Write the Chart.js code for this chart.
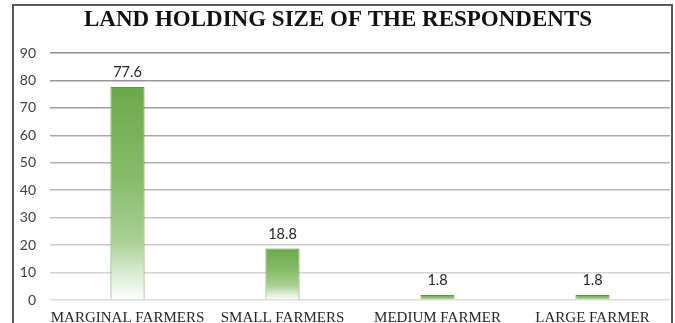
<!DOCTYPE html>
<html>
<head>
<meta charset="utf-8">
<script src="https://cdn.jsdelivr.net/npm/chart.js@4/dist/chart.umd.min.js"></script>
<style>
  html, body { margin: 0; padding: 0; background: #fff; }
  #wrap { width: 675px; height: 323px; }
</style>
</head>
<body>
<div id="wrap"><canvas id="landChart" width="675" height="323"></canvas></div>
<script>
const chartTitle = 'LAND HOLDING SIZE OF THE RESPONDENTS';
const categories = ['MARGINAL FARMERS', 'SMALL FARMERS', 'MEDIUM FARMER', 'LARGE FARMER'];
const shares = [77.6, 18.8, 1.8, 1.8];
const yTicks = [0, 10, 20, 30, 40, 50, 60, 70, 80, 90];

// each bar fades from green at its top to white at its base
function barFill(context) {
    const chart = context.chart;
    const y = chart.scales.y;
    if (!y || context.raw === undefined) return '#70ad47';
    const top = y.getPixelForValue(context.raw);
    const base = y.getPixelForValue(0);
    if (!Number.isFinite(top) || !Number.isFinite(base) || base - top < 1) return '#70ad47';
    const g = chart.ctx.createLinearGradient(0, top, 0, base);
    g.addColorStop(0, '#6aa84a');
    g.addColorStop(0.45, '#8abd6c');
    g.addColorStop(0.72, '#a9d094');
    g.addColorStop(0.88, '#dcebd3');
    g.addColorStop(1, '#ffffff');
    return g;
}

// frame and title around the chart
const framePlugin = {
    id: 'frame',
    beforeDraw(chart) {
        const ctx = chart.ctx;
        ctx.save();
        ctx.strokeStyle = '#595959';
        ctx.lineWidth = 2;
        ctx.beginPath();
        ctx.moveTo(13, 330);
        ctx.lineTo(13, 5);
        ctx.lineTo(672, 5);
        ctx.lineTo(672, 330);
        ctx.stroke();
        ctx.fillStyle = '#111';
        ctx.font = 'bold 23px "Liberation Serif", "Times New Roman", serif';
        ctx.textAlign = 'center';
        ctx.textBaseline = 'middle';
        ctx.fillText(chartTitle, 338, 20);
        ctx.restore();
    }
};

// value printed above every bar
const valueLabels = {
    id: 'valueLabels',
    afterDatasetsDraw(chart) {
        const ctx = chart.ctx;
        const meta = chart.getDatasetMeta(0);
        ctx.save();
        ctx.fillStyle = '#262626';
        ctx.font = '14.5px Lato, "Open Sans", sans-serif';
        ctx.textAlign = 'center';
        ctx.textBaseline = 'bottom';
        meta.data.forEach(function (bar, i) {
            ctx.fillText(shares[i].toFixed(1), bar.x, bar.y - 7);
        });
        ctx.restore();
    }
};

const ctx = document.getElementById('landChart').getContext('2d');
new Chart(ctx, {
    type: 'bar',
    data: {
        labels: categories,
        datasets: [{
            data: shares,
            backgroundColor: barFill,
            borderColor: '#5e9a3c',
            borderWidth: 1,
            barPercentage: 0.22,
            categoryPercentage: 1
        }]
    },
    options: {
        responsive: false,
        animation: false,
        layout: { padding: { left: 14, right: 5, top: 53, bottom: 0 } },
        plugins: {
            legend: { display: false },
            title: { display: false },
            tooltip: { enabled: false }
        },
        scales: {
            x: {
                afterFit(scale) { scale.height = 23; },
                grid: { display: false, drawTicks: false },
                border: { display: false },
                ticks: {
                    color: '#262626',
                    padding: 9,
                    maxRotation: 0,
                    autoSkip: false,
                    font: { family: '"Liberation Serif", "Times New Roman", serif', size: 15 }
                }
            },
            y: {
                min: 0,
                max: 90,
                afterFit(scale) { scale.width = 36; },
                afterBuildTicks(scale) {
                    scale.ticks = yTicks.map(function (v) { return { value: v }; });
                },
                border: { display: false },
                grid: {
                    drawTicks: false,
                    lineWidth: 1.5,
                    color(c) {
                        const t = c.index / 9;
                        const v = Math.round(220 - t * 80);
                        return 'rgb(' + v + ',' + v + ',' + v + ')';
                    }
                },
                ticks: {
                    color: '#404040',
                    padding: 14,
                    font: { family: 'Lato, "Open Sans", sans-serif', size: 14 }
                }
            }
        }
    },
    plugins: [framePlugin, valueLabels]
});
</script>
</body>
</html>
